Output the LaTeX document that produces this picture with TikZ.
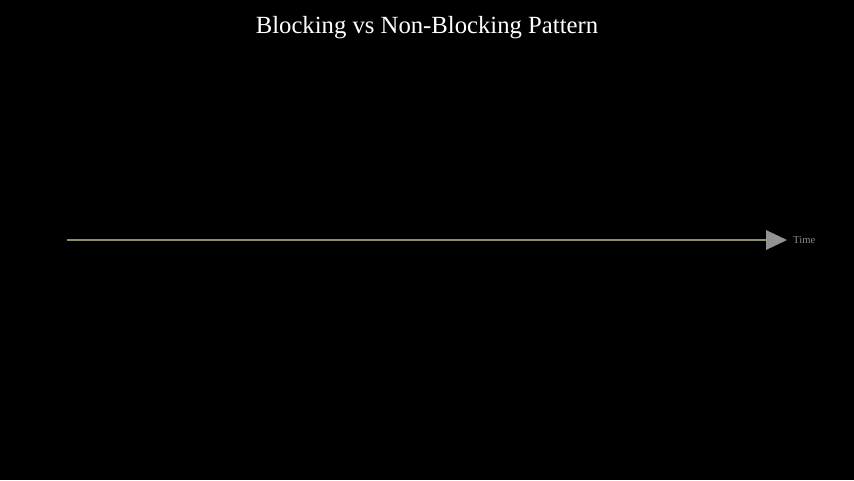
\documentclass[tikz,border=0pt]{standalone}
\usepackage{fontspec}
\setmainfont{Liberation Serif}
\begin{document}
\begin{tikzpicture}[x=1pt,y=-1pt,
  titletext/.style={text=white,font=\fontsize{24.7}{28}\selectfont,inner sep=0pt},
  axislabel/.style={text=gray!90,font=\fontsize{10.6}{12}\selectfont,inner sep=0pt,anchor=west},
  axisline/.style={draw=gray!75!olive,line width=1.2pt},
  tip/.style={fill=gray!85,draw=none}]
\fill[black] (0,0) rectangle (854,480);
\useasboundingbox (0,0) rectangle (854,480);
\node[titletext] (title) at (427,28) {Blocking vs Non-Blocking Pattern};
\coordinate (start) at (67,240);
\coordinate (end) at (767,240);
\draw[axisline] (start) -- (end);
\fill[tip] (766,230) -- (787,240) -- (766,250) -- cycle;
\node[axislabel] (time) at (793,240.5) {Time};
\end{tikzpicture}
\end{document}
